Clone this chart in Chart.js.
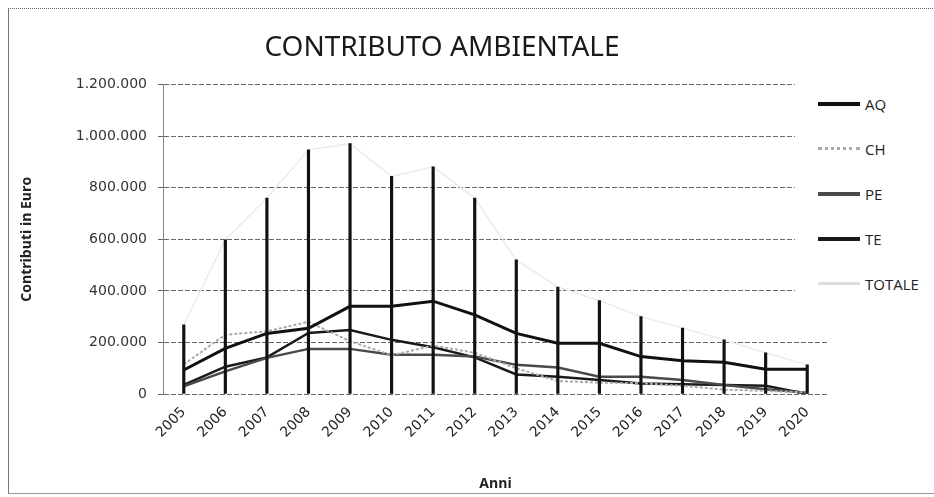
<!DOCTYPE html>
<html>
<head>
<meta charset="utf-8">
<script src="https://cdn.jsdelivr.net/npm/chart.js@4"></script>
<style>
  html, body { margin: 0; padding: 0; background: #fff; }
  #wrap { position: relative; width: 934px; height: 497px; overflow: hidden; }
  #frame { position: absolute; left: 8px; top: 8px; width: 940px; height: 484px;
           border-left: 1px solid #777; border-top: 1px dotted #666; border-bottom: 1px solid #999; }
  #chart { position: absolute; left: 0; top: 0; z-index: 1; }
  #legend { position: absolute; left: 795px; top: 81px; width: 139px; height: 225px; z-index: 2;
            background: #fff; padding-left: 23px; box-sizing: border-box; }
  .item { height: 45px; display: flex; align-items: center;
          font: 15px "Open Sans", sans-serif; color: #222; }
  .swatch { width: 42px; margin-right: 5px; }
</style>
</head>
<body>
<div id="wrap">
  <div id="frame"></div>
  <canvas id="chart" width="934" height="497"></canvas>
  <div id="legend"></div>
</div>
<script>
// Contributo ambientale per provincia, in euro
var years = ['2005', '2006', '2007', '2008', '2009', '2010', '2011', '2012',
             '2013', '2014', '2015', '2016', '2017', '2018', '2019', '2020'];
var aq = [93000, 177000, 235000, 255000, 340000, 340000, 360000, 307000,
          235000, 197000, 197000, 145000, 129000, 123000, 96000, 96000];
var ch = [115000, 230000, 243000, 280000, 205000, 150000, 188000, 160000,
          100000, 50000, 44000, 42000, 32000, 17000, 12000, 6000];
var pe = [30000, 88000, 140000, 175000, 175000, 152000, 152000, 145000,
          113000, 103000, 67000, 67000, 54000, 35000, 18000, 5000];
var te = [35000, 106000, 142000, 237000, 248000, 210000, 181000, 142000,
          76000, 67000, 54000, 41000, 38000, 35000, 32000, 0];
var totale = [268000, 598000, 760000, 947000, 971000, 844000, 881000, 760000,
              520000, 415000, 362000, 300000, 256000, 210000, 160000, 113000];
var yTicks = [0, 200000, 400000, 600000, 800000, 1000000, 1200000];

function fmt(v) {
  return String(v).replace(/\B(?=(\d{3})+(?!\d))/g, '.');
}

var series = [
  { label: 'AQ', data: aq, color: '#111', width: 3, dash: [] },
  { label: 'CH', data: ch, color: '#aaa', width: 2, dash: [3, 2] },
  { label: 'PE', data: pe, color: '#4a4a4a', width: 2.5, dash: [] },
  { label: 'TE', data: te, color: '#1a1a1a', width: 2.5, dash: [] },
  { label: 'TOTALE', data: totale, color: '#ebebeb', width: 1.5, dash: [] }
];

var datasets = series.map(function (s) {
  return {
    type: 'line',
    label: s.label,
    data: s.data,
    borderColor: s.color,
    backgroundColor: s.color,
    borderWidth: s.width,
    borderDash: s.dash,
    pointRadius: 0,
    tension: 0,
    fill: false,
    order: 1
  };
});

// drop lines from the TOTALE points down to the axis
datasets.push({
  type: 'bar',
  label: 'drop',
  data: totale,
  backgroundColor: '#111',
  barThickness: 2.5,
  order: 0
});

new Chart(document.getElementById('chart'), {
  type: 'line',
  data: { labels: years, datasets: datasets },
  options: {
    responsive: false,
    animation: false,
    layout: { padding: { left: 8, right: 58, top: 0, bottom: 0 } },
    plugins: {
      legend: { display: false },
      tooltip: { enabled: false },
      title: {
        display: true,
        text: 'CONTRIBUTO AMBIENTALE',
        color: '#1a1a1a',
        font: { family: "'Noto Sans', sans-serif", size: 28, weight: 'normal' },
        padding: { top: 31, bottom: 20 }
      }
    },
    scales: {
      x: {
        offset: true,
        grid: { display: false },
        border: { display: false },
        ticks: {
          minRotation: 45,
          maxRotation: 45,
          padding: 2,
          color: '#222',
          font: { family: "'DejaVu Sans', sans-serif", size: 14 }
        },
        title: {
          display: true,
          text: 'Anni',
          color: '#222',
          font: { family: "'Open Sans', sans-serif", size: 14, weight: 'bold' },
          padding: { top: 0, bottom: 5 }
        },
        afterFit: function (scale) { scale.height = 103; }
      },
      y: {
        min: 0,
        max: 1200000,
        afterBuildTicks: function (scale) {
          scale.ticks = yTicks.map(function (v) { return { value: v }; });
        },
        grid: { color: '#666', lineWidth: 1, tickLength: 5 },
        border: { display: true, color: '#888', width: 1, dash: [5, 2] },
        ticks: {
          padding: 11,
          color: '#333',
          font: { family: "'DejaVu Sans', sans-serif", size: 14 },
          callback: function (v) { return fmt(v); }
        },
        title: {
          display: true,
          text: 'Contributi in Euro',
          color: '#222',
          font: { family: "'Open Sans', sans-serif", size: 14, weight: 'bold' },
          padding: { top: 11, bottom: 0 }
        },
        afterFit: function (scale) { scale.width = 155; }
      },
      pad: {
        position: 'right',
        display: true,
        grid: { display: false },
        border: { display: false },
        ticks: { display: false },
        afterFit: function (scale) { scale.width = 48; }
      }
    }
  }
});

// legend, drawn beside the plot as in the original sheet
var legend = document.getElementById('legend');
series.forEach(function (s) {
  var item = document.createElement('div');
  item.className = 'item';
  var sw = document.createElement('span');
  sw.className = 'swatch';
  sw.style.borderTop = Math.max(2, Math.round(s.width + 1)) + 'px ' + (s.dash.length ? 'dotted ' : 'solid ') + (s.label === 'TOTALE' ? '#ddd' : s.color);
  item.appendChild(sw);
  item.appendChild(document.createTextNode(s.label));
  legend.appendChild(item);
});
</script>
</body>
</html>
